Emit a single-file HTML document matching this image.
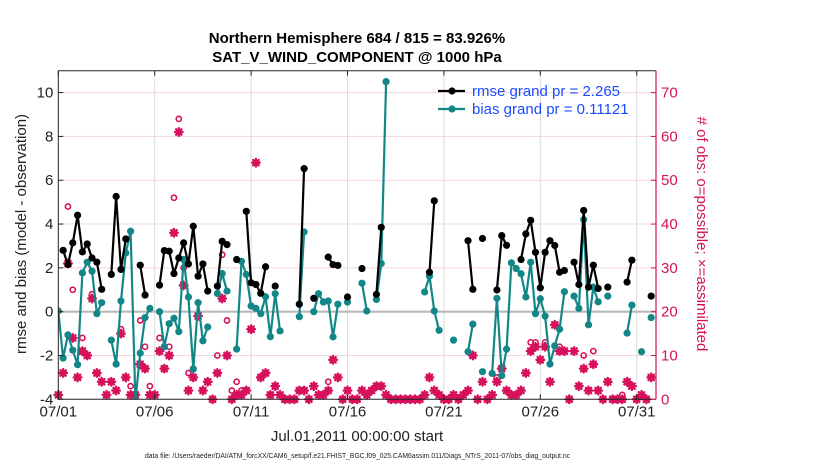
<!DOCTYPE html>
<html><head><meta charset="utf-8">
<style>
html,body{margin:0;padding:0;background:#fff;}
svg{display:block;font-family:"Liberation Sans",Arial,sans-serif;}
</style></head>
<body>
<svg id="chart" width="830" height="470" viewBox="0 0 830 470" xmlns="http://www.w3.org/2000/svg">
  <rect x="0" y="0" width="830" height="470" fill="#fff"/>
  <text x="357" y="43" text-anchor="middle" font-size="15" font-weight="bold">Northern Hemisphere 684 / 815 = 83.926%</text>
  <text x="357" y="62" text-anchor="middle" font-size="15" font-weight="bold">SAT_V_WIND_COMPONENT @ 1000 hPa</text>
  <g id="grid"></g>
  <g id="obs"></g>
  <g id="series"></g>
  <g id="axes"></g>
  <text transform="translate(26,234) rotate(-90)" text-anchor="middle" font-size="15" fill="#222">rmse and bias (model - observation)</text>
  <text transform="translate(697,234) rotate(90)" text-anchor="middle" font-size="15" fill="#d6105a"># of obs: o=possible; ×=assimilated</text>
  <text x="357" y="441" text-anchor="middle" font-size="15" fill="#222">Jul.01,2011 00:00:00 start</text>
  <text x="145" y="458" font-size="7.2" textLength="425" lengthAdjust="spacingAndGlyphs" fill="#222">data file: /Users/raeder/DAI/ATM_forcXX/CAM6_setup/f.e21.FHIST_BGC.f09_025.CAM6assim.011/Diags_NTrS_2011-07/obs_diag_output.nc</text>
  <g id="legend">
    <line x1="438" y1="91" x2="465" y2="91" stroke="#000" stroke-width="2.2"/>
    <circle cx="452" cy="91" r="3.6" fill="#000"/>
    <text x="472" y="96" font-size="15" fill="#1a4cff">rmse grand pr = 2.265</text>
    <line x1="438" y1="109" x2="465" y2="109" stroke="#138787" stroke-width="2.2"/>
    <circle cx="452" cy="109" r="3.6" fill="#138787"/>
    <text x="472" y="114" font-size="15" fill="#1a4cff">bias grand pr = 0.11121</text>
  </g>
</svg>
<script>
// ---- data (6-hourly, index i -> day i/4) ----
const xTickLabels = ["07/01","07/06","07/11","07/16","07/21","07/26","07/31"];
const xTickDays = [0,5,10,15,20,25,30];
const yTicksLeft = [-4,-2,0,2,4,6,8,10];
const yTicksRight = [0,10,20,30,40,50,60,70];
const N = null;
const rmse = [N,2.80,2.15,3.14,4.40,2.73,3.09,2.45,2.26,1.02,N,1.70,5.26,1.93,3.32,N,N,2.12,0.76,N,
 N,1.21,2.79,2.76,1.74,2.45,3.14,2.18,3.90,1.62,2.18,0.94,N,1.17,3.21,3.06,N,2.38,N,4.58,
 1.32,1.24,0.84,2.05,N,1.17,N,N,N,N,0.34,6.53,N,0.61,N,N,2.49,2.15,2.11,N,
 0.67,N,N,1.97,N,N,0.79,3.85,N,N,N,N,N,N,N,N,N,1.80,5.06,N,
 N,N,N,N,N,3.24,1.02,N,3.34,N,N,0.99,3.47,3.03,N,N,2.38,3.55,4.17,2.71,
 1.09,2.71,3.24,3.02,1.80,1.88,N,2.26,1.24,4.62,1.12,2.12,1.06,N,1.12,N,N,N,1.35,2.35,
 N,N,N,0.71];
const bias = [0.03,-2.12,-1.06,-1.76,-2.42,1.77,2.26,1.85,-0.09,0.41,N,-1.30,-2.39,0.49,2.68,3.67,-4.06,-1.89,-0.27,0.15,
 N,0.00,-1.60,-0.55,-0.30,-0.91,2.38,0.67,-2.62,0.41,-1.33,-0.70,N,0.83,1.74,0.94,N,-1.71,2.30,1.70,
 0.26,0.15,-0.09,0.68,-1.14,0.82,-0.88,N,N,N,-0.23,3.64,N,0.00,0.82,0.44,0.49,-1.15,0.34,N,
 0.44,N,N,1.30,0.03,N,0.56,2.20,10.50,N,N,N,N,N,N,N,0.90,1.62,0.03,-0.85,
 N,N,-1.30,N,N,-1.83,-0.57,N,-2.74,N,-2.82,0.61,-2.92,-1.71,2.23,1.97,1.73,0.67,2.26,-0.09,
 0.59,-0.20,-2.39,-1.56,-0.80,0.91,N,0.71,0.15,4.20,-0.60,1.12,0.45,N,0.71,N,N,N,-0.98,0.30,
 N,-1.83,N,-0.27];
const nAssim = [1,6,31,14,5,11,10,23,6,4,1,4,2,15,5,1,1,8,7,1,
 1,11,7,10,38,61,26,2,5,19,2,4,0,6,23,10,0,1,1,2,
 16,54,5,6,1,3,1,0,0,0,2,2,0,3,1,1,2,9,5,0,
 2,0,0,2,1,2,3,3,1,0,0,0,0,0,0,0,1,5,2,1,
 0,0,1,0,1,2,10,0,4,0,1,4,7,2,1,1,2,6,11,12,
 9,12,4,17,11,11,0,11,3,7,2,8,2,0,4,0,0,0,4,3,
 0,1,0,5];
const nPoss = [1,6,44,25,5,14,10,24,6,4,1,4,8,16,5,3,1,18,12,3,
 1,14,7,12,46,64,30,6,7,19,2,4,0,10,33,18,2,4,2,2,
 16,54,5,6,1,3,1,0,0,0,2,2,0,3,1,1,4,9,5,0,
 2,0,0,2,1,2,3,3,1,0,0,0,0,0,0,0,1,5,2,1,
 0,0,1,0,1,2,10,0,4,0,1,5,7,2,1,1,2,6,13,13,
 9,13,4,17,12,11,0,11,3,10,2,11,2,0,4,0,0,1,4,3,
 0,1,0,5];

// ---- axes ----
const PX0=58.3, PX1=656, PY0=70.7, PY1=399.3;
const XMIN=0, XMAX=31;
const YMIN=-4, YMAX=11;
const RMIN=0, RMAX=75;
function xScale(d){return PX0+(d-XMIN)/(XMAX-XMIN)*(PX1-PX0);}
function yScale(v){return PY1-(v-YMIN)/(YMAX-YMIN)*(PY1-PY0);}
function rScale(v){return PY1-(v-RMIN)/(RMAX-RMIN)*(PY1-PY0);}
const NS="http://www.w3.org/2000/svg";
function mk(tag,attrs,parent){const e=document.createElementNS(NS,tag);for(const k in attrs)e.setAttribute(k,attrs[k]);parent.appendChild(e);return e;}

const grid=document.getElementById('grid');
const axes=document.getElementById('axes');
const obs=document.getElementById('obs');
const series=document.getElementById('series');

yTicksLeft.forEach(v=>{
  if(v===YMIN) return;
  const g=mk('line',{x1:PX0,x2:PX1,y1:yScale(v),y2:yScale(v),stroke:'#f1d6e0','stroke-width':1},grid);
  
  
});
xTickDays.forEach(d=>{
  if(d===0) return;
  const g=mk('line',{x1:xScale(d),x2:xScale(d),y1:PY0,y2:PY1,stroke:'#dcdcdc','stroke-width':1},grid);
  
  
});
const z=mk('line',{x1:PX0,x2:PX1,y1:yScale(0),y2:yScale(0),stroke:'#b8b8b8','stroke-width':2.2},grid);



const MAG='#d6105a';
function dayOf(i){return i/4;}
nPoss.forEach((v,i)=>{
  if(v===null) return;
  if(v>nAssim[i]){
    const c=mk('circle',{cx:xScale(dayOf(i)),cy:rScale(v),r:2.6,fill:'none',stroke:MAG,'stroke-width':1.6},obs);
    
    
  }
});
nAssim.forEach((v,i)=>{
  if(v===null) return;
  const cx=xScale(dayOf(i)), cy=rScale(v);
  const s=3.8;
  const p=mk('path',{d:`M${cx-s},${cy}L${cx+s},${cy}M${cx},${cy-s}L${cx},${cy+s}M${cx-s*0.7},${cy-s*0.7}L${cx+s*0.7},${cy+s*0.7}M${cx-s*0.7},${cy+s*0.7}L${cx+s*0.7},${cy-s*0.7}`,stroke:MAG,'stroke-width':2.4,'stroke-linecap':'round',fill:'none'},obs);
  
  
});

const defs=mk('defs',{},document.getElementById('chart'));
const cp=mk('clipPath',{id:'plotclip'},defs);
mk('rect',{x:PX0,y:PY0,width:PX1-PX0,height:PY1-PY0},cp);
series.setAttribute('clip-path','url(#plotclip)');

function drawSeries(arr,color,name){
  let d='';let pen=false;
  arr.forEach((v,i)=>{
    if(v===null){pen=false;return;}
    d+=(pen?'L':'M')+xScale(dayOf(i)).toFixed(1)+','+yScale(v).toFixed(1);
    pen=true;
  });
  const p=mk('path',{d:d,stroke:color,'stroke-width':2.2,fill:'none','stroke-linejoin':'round'},series);
  
  
  arr.forEach((v,i)=>{
    if(v===null) return;
    const c=mk('circle',{cx:xScale(dayOf(i)),cy:yScale(v),r:3.6,fill:color},series);
    
    
  });
}
drawSeries(bias,'#138787','bias');
drawSeries(rmse,'#000000','rmse');

const lA=mk('line',{x1:PX0,x2:PX0,y1:PY0,y2:PY1,stroke:'#222','stroke-width':1},axes);


const bA=mk('line',{x1:PX0,x2:PX1,y1:PY1,y2:PY1,stroke:'#222','stroke-width':1},axes);


const tA=mk('line',{x1:PX0,x2:PX1,y1:PY0,y2:PY0,stroke:'#222','stroke-width':1},axes);


const rA=mk('line',{x1:PX1,x2:PX1,y1:PY0,y2:PY1,stroke:MAG,'stroke-width':1.2},axes);



yTicksLeft.forEach(v=>{
  const y=yScale(v);
  const t=mk('line',{x1:PX0,x2:PX0+5,y1:y,y2:y,stroke:'#222'},axes);
  
  
  const l=mk('text',{x:PX0-5,y:y+5,'text-anchor':'end','font-size':15,fill:'#222'},axes);
  l.textContent=String(v);
  
  
});
yTicksRight.forEach(v=>{
  const y=rScale(v);
  const t=mk('line',{x1:PX1-5,x2:PX1,y1:y,y2:y,stroke:MAG},axes);
  
  
  const l=mk('text',{x:PX1+5,y:y+5,'text-anchor':'start','font-size':15,fill:MAG},axes);
  l.textContent=String(v);
  
  
});
xTickDays.forEach((d,k)=>{
  const x=xScale(d);
  const t=mk('line',{x1:x,x2:x,y1:PY1,y2:PY1-5,stroke:'#222'},axes);
  
  
  const t2=mk('line',{x1:x,x2:x,y1:PY0,y2:PY0+5,stroke:'#222'},axes);
  
  
  const l=mk('text',{x:x,y:PY1+17,'text-anchor':'middle','font-size':15,fill:'#222'},axes);
  l.textContent=xTickLabels[k];
  
  
});
</script>
</body></html>
